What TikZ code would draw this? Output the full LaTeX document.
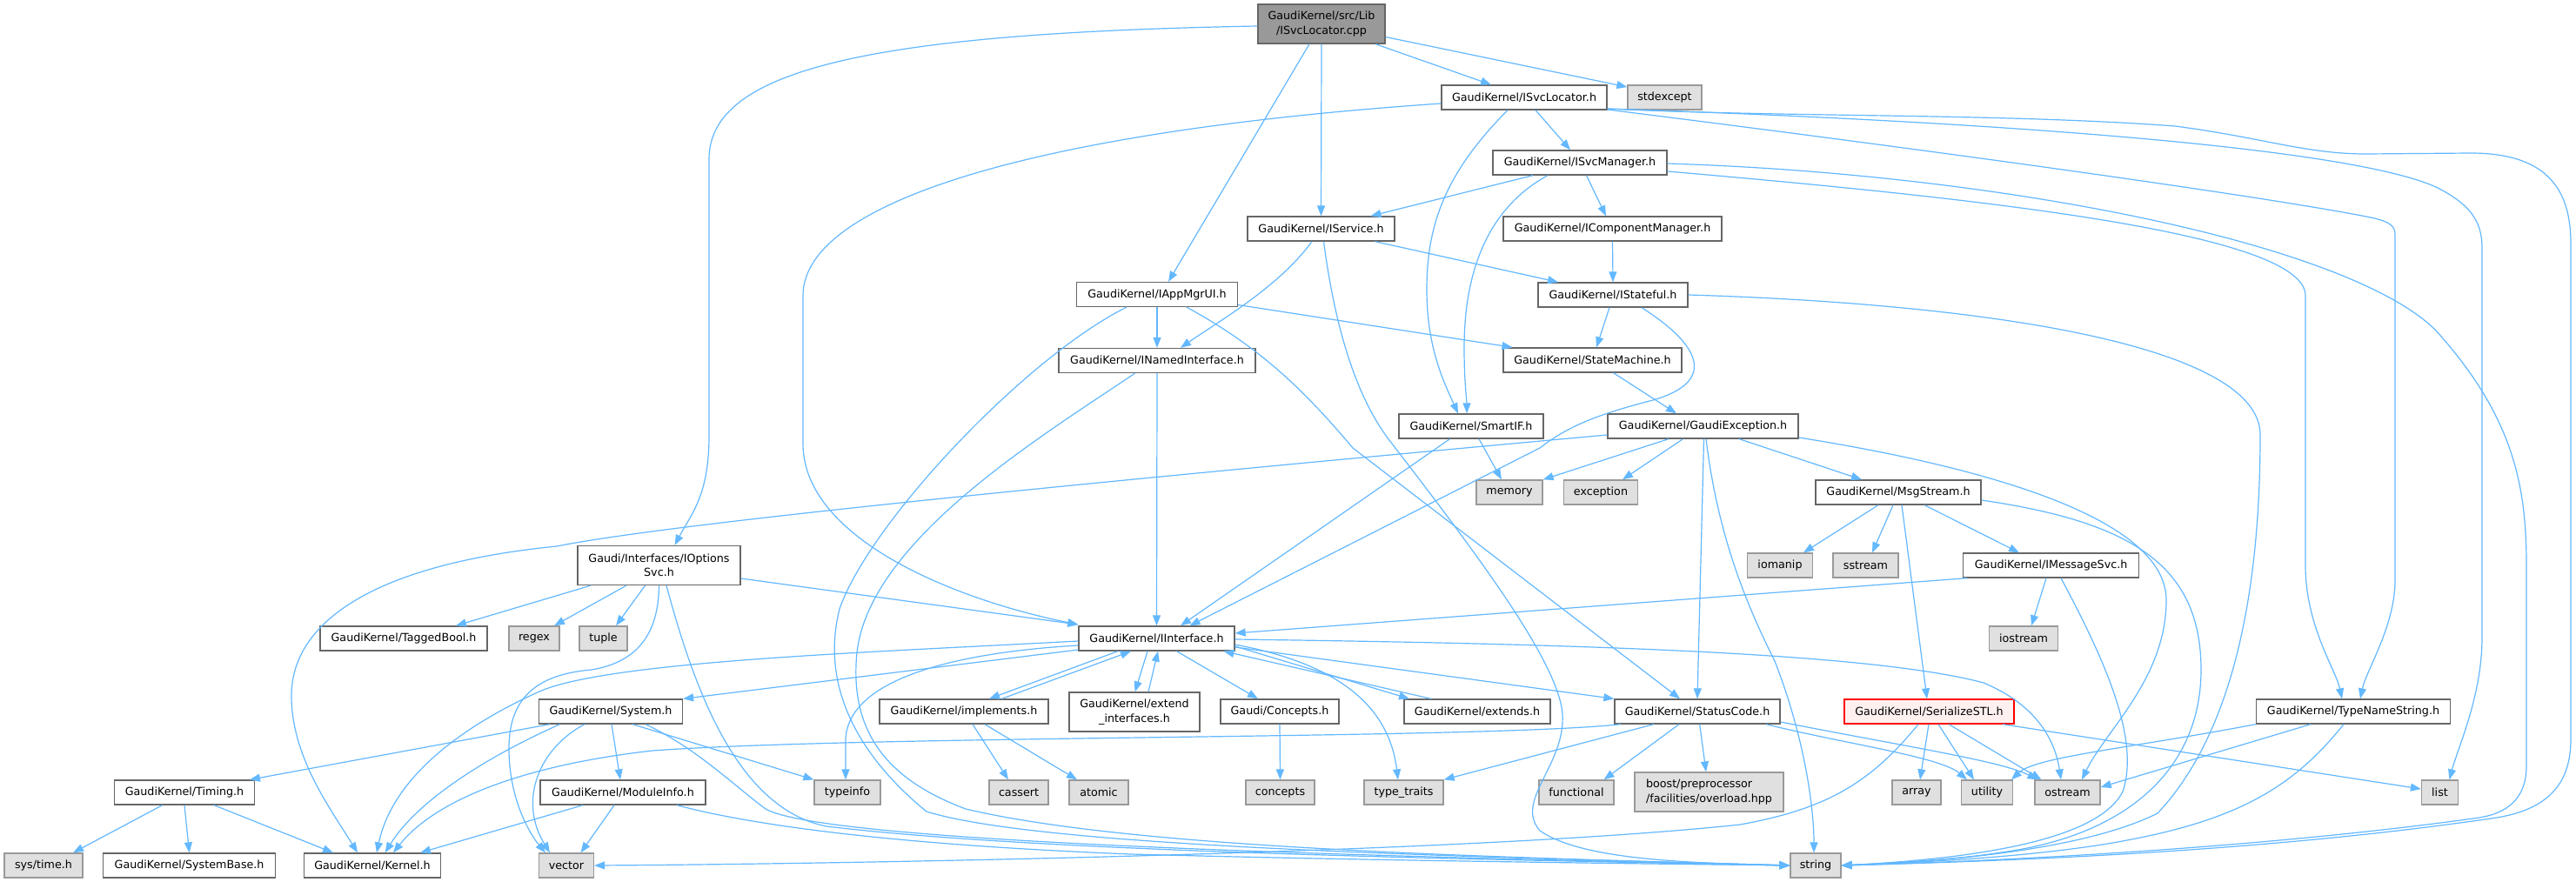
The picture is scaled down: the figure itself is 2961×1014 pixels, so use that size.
\documentclass[tikz,border=0pt]{standalone}
\usepackage{fontspec}
\setmainfont{DejaVu Sans}
\usetikzlibrary{arrows.meta}
\definecolor{edgeblue}{HTML}{63B8FF}
\definecolor{gfour}{HTML}{666666}
\definecolor{gsix}{HTML}{999999}
\definecolor{sysfill}{HTML}{E0E0E0}
\definecolor{redfill}{HTML}{FFF0F0}
\tikzset{
  box/.style={draw=gfour, fill=white, line width=1.3pt, minimum height=28, inner sep=0pt,
    font=\fontsize{12.7}{16.5}\selectfont, align=center},
  sysbox/.style={box, draw=gsix, fill=sysfill},
  rootbox/.style={box, draw=gfour, fill=gsix},
  redbox/.style={box, draw=red, fill=redfill},
  dep/.style={draw=edgeblue, line width=1.2pt, -{Triangle[length=12pt,width=9pt]}}
}
\begin{document}
\begin{tikzpicture}[x=1pt,y=-1pt]
\fill[white] (0,0) rectangle (2961,1014);
\useasboundingbox (0,0) rectangle (2961,1014);
% nodes
\node[rootbox, minimum width=146, minimum height=45] (root) at (1519,27.5) {GaudiKernel/src/Lib\\/ISvcLocator.cpp};
\node[box, minimum width=190] (isl) at (1752,112) {GaudiKernel/ISvcLocator.h};
\node[sysbox, minimum width=85] (stdx) at (1913.5,112) {stdexcept};
\node[box, minimum width=200] (ism) at (1816,187) {GaudiKernel/ISvcManager.h};
\node[box, minimum width=169] (isv) at (1518.5,263) {GaudiKernel/IService.h};
\node[box, minimum width=251] (icm) at (1853.5,263) {GaudiKernel/IComponentManager.h};
\node[box, minimum width=172] (ist) at (1854,339) {GaudiKernel/IStateful.h};
\node[box, minimum width=185] (iam) at (1330,338.5) {GaudiKernel/IAppMgrUI.h};
\node[box, minimum width=226] (ini) at (1330,414.5) {GaudiKernel/INamedInterface.h};
\node[box, minimum width=205] (stm) at (1830.5,414) {GaudiKernel/StateMachine.h};
\node[box, minimum width=166] (sif) at (1691,490) {GaudiKernel/SmartIF.h};
\node[box, minimum width=219] (gex) at (1957.5,490) {GaudiKernel/GaudiException.h};
\node[sysbox, minimum width=76] (mem) at (1735,566) {memory};
\node[sysbox, minimum width=85] (exc) at (1840,566) {exception};
\node[box, minimum width=190] (msg) at (2182,566) {GaudiKernel/MsgStream.h};
\node[box, minimum width=187, minimum height=45] (ios) at (757.5,650) {Gaudi/Interfaces/IOptions\\Svc.h};
\node[sysbox, minimum width=75] (iom) at (2046,650) {iomanip};
\node[sysbox, minimum width=75] (sst) at (2144.5,650) {sstream};
\node[box, minimum width=202] (ims) at (2357.6,650) {GaudiKernel/IMessageSvc.h};
\node[box, minimum width=192] (tgb) at (464,734) {GaudiKernel/TaggedBool.h};
\node[sysbox, minimum width=58] (rgx) at (614,734) {regex};
\node[sysbox, minimum width=55] (tpl) at (693.5,734) {tuple};
\node[box, minimum width=179] (iif) at (1329.5,734) {GaudiKernel/IInterface.h};
\node[sysbox, minimum width=79] (iost) at (2326,734) {iostream};
\node[box, minimum width=165] (sys) at (702,818) {GaudiKernel/System.h};
\node[box, minimum width=194] (imp) at (1108,818) {GaudiKernel/implements.h};
\node[box, minimum width=150, minimum height=45] (ext) at (1304,818.5) {GaudiKernel/extend\\\_interfaces.h};
\node[box, minimum width=136] (cpt) at (1471,818) {Gaudi/Concepts.h};
\node[box, minimum width=168] (exd) at (1698,818) {GaudiKernel/extends.h};
\node[box, minimum width=190] (stc) at (1951,818) {GaudiKernel/StatusCode.h};
\node[redbox, minimum width=195] (ser) at (2217.5,818) {GaudiKernel/SerializeSTL.h};
\node[box, minimum width=223] (tns) at (2705,818) {GaudiKernel/TypeNameString.h};
\node[box, minimum width=161] (tim) at (212,911) {GaudiKernel/Timing.h};
\node[box, minimum width=190] (mod) at (716,911) {GaudiKernel/ModuleInfo.h};
\node[sysbox, minimum width=76] (tyi) at (974,911) {typeinfo};
\node[sysbox, minimum width=68] (cas) at (1171,911) {cassert};
\node[sysbox, minimum width=68] (atm) at (1263,911) {atomic};
\node[sysbox, minimum width=79] (cnc) at (1471.5,911) {concepts};
\node[sysbox, minimum width=91] (ttr) at (1613.5,911) {type\_traits};
\node[sysbox, minimum width=86] (fnc) at (1812,911) {functional};
\node[sysbox, minimum width=171, minimum height=45, align=left] (bst) at (1964.5,910.5) {boost/preprocessor\\/facilities/overload.hpp};
\node[sysbox, minimum width=56] (arr) at (2203,911) {array};
\node[sysbox, minimum width=59] (utl) at (2284,911) {utility};
\node[sysbox, minimum width=75] (ost) at (2376.5,911) {ostream};
\node[sysbox, minimum width=42] (lst) at (2804.5,911) {list};
\node[sysbox, minimum width=90] (stime) at (50,995) {sys/time.h};
\node[box, minimum width=198] (sbs) at (217.6,995) {GaudiKernel/SystemBase.h};
\node[box, minimum width=157] (ker) at (428,995) {GaudiKernel/Kernel.h};
\node[sysbox, minimum width=63] (vec) at (651,995) {vector};
\node[sysbox, minimum width=58] (str) at (2087,995) {string};
% root edges
\draw[dep] ([xshift=62]root.south) -- ([xshift=-38]isl.north);
\draw[dep] ([yshift=-15]root.east) -- ([yshift=12]stdx.west);
\draw[dep] (root.south) -- (isv.north);
\draw[dep] ([xshift=-14]root.south) -- ([xshift=13]iam.north);
\draw[dep] ([yshift=-2.5]root.west) .. controls (1000,38) and (815,80) .. (815,183) -- (815,500) .. controls (815,570) and (795,590) .. ([xshift=18]ios.north);
% ISvcLocator.h
\draw[dep] ([yshift=-7]isl.west) .. controls (1200,150) and (923,230) .. (923,340) -- (923,510) .. controls (923,620) and (1100,690) .. ([yshift=16]iif.west);
\draw[dep] ([xshift=-19]isl.south) .. controls (1660,200) and (1640,260) .. (1640,333) .. controls (1640,400) and (1660,440) .. ([xshift=-15]sif.north);
\draw[dep] ([xshift=13]isl.south) -- ([xshift=-11]ism.north);
\draw[dep] ([yshift=-13]isl.east) .. controls (2050,135) and (2300,130) .. (2500,145) .. controls (2600,158) and (2650,177) .. (2720,177) -- (2840,176) .. controls (2930,176) and (2955,220) .. (2955,280) -- (2955,850) .. controls (2955,900) and (2930,930) .. (2870,940) .. controls (2600,980) and (2300,990) .. (str.east);
\draw[dep] ([yshift=-13]isl.east) .. controls (2300,140) and (2700,170) .. (2800,215) .. controls (2840,235) and (2853,255) .. (2853,285) -- (2853,733) .. controls (2853,800) and (2825,860) .. ([xshift=11]lst.north);
\draw[dep] ([yshift=-14]isl.east) .. controls (2200,170) and (2600,225) .. (2725,250) .. controls (2748,255) and (2753,260) .. (2753,270) -- (2753,667) .. controls (2753,720) and (2720,770) .. ([xshift=8]tns.north);
% ISvcManager.h
\draw[dep] ([xshift=-54]ism.south) -- ([xshift=57]isv.north);
\draw[dep] ([xshift=-37]ism.south) .. controls (1700,245) and (1683,330) .. (1683,400) .. controls (1683,440) and (1686,460) .. ([xshift=-5]sif.north);
\draw[dep] ([xshift=7.5]ism.south) -- ([xshift=-7.5]icm.north);
\draw[dep] ([yshift=-1]ism.east) .. controls (2300,200) and (2700,280) .. (2800,380) .. controls (2890,480) and (2904,560) .. (2904,650) -- (2904,880) .. controls (2904,920) and (2880,935) .. (2850,940) .. controls (2600,975) and (2300,990) .. (str.east);
\draw[dep] ([yshift=-10]ism.east) .. controls (2300,230) and (2650,270) .. (2650,340) -- (2650,650) .. controls (2650,720) and (2685,770) .. ([xshift=-13]tns.north);
\draw[dep] (icm.south) -- (ist.north);
% IService.h
\draw[dep] ([xshift=62]isv.south) -- ([xshift=-63]ist.north);
\draw[dep] ([xshift=-10.5]isv.south) .. controls (1470,330) and (1400,370) .. ([xshift=27]ini.north);
\draw[dep] ([xshift=3]isv.south) .. controls (1535,380) and (1560,460) .. (1600,510) .. controls (1700,640) and (1790,760) .. (1796,820) .. controls (1800,880) and (1740,920) .. (1770,955) .. controls (1820,990) and (1950,992) .. (str.west);
% IStateful.h
\draw[dep] ([xshift=-4]ist.south) -- ([xshift=4.5]stm.north);
\draw[dep] ([xshift=33]ist.south) .. controls (1960,400) and (1970,440) .. (1900,460) .. controls (1830,478) and (1800,492) .. (1770,515) -- ([xshift=38]iif.north);
\draw[dep] (ist.east) .. controls (2300,350) and (2598,400) .. (2598,500) .. controls (2598,700) and (2560,850) .. (2480,935) .. controls (2400,975) and (2250,990) .. (str.east);
\draw[dep] ([xshift=24]stm.south) -- ([xshift=-30.5]gex.north);
% IAppMgrUI.h
\draw[dep] (iam.south) -- (ini.north);
\draw[dep] ([yshift=-12]iam.east) -- ([xshift=-92]stm.north);
\draw[dep] ([xshift=34]iam.south) .. controls (1450,400) and (1500,450) .. (1555,515) -- ([xshift=-20]stc.north);
\draw[dep] ([xshift=-35]iam.south) .. controls (1180,410) and (1000,600) .. (965,700) .. controls (940,800) and (1000,880) .. (1065,933) .. controls (1200,975) and (1700,985) .. (str.west);
% INamedInterface.h
\draw[dep] (ini.south) -- (iif.north);
\draw[dep] ([xshift=-25.5]ini.south) .. controls (1200,500) and (1000,620) .. (985,750) .. controls (975,850) and (1030,900) .. (1110,930) .. controls (1300,975) and (1700,985) .. (str.west);
% SmartIF.h
\draw[dep] ([xshift=-24.5]sif.south) -- ([xshift=27.5]iif.north);
\draw[dep] ([xshift=9]sif.south) -- ([xshift=-9]mem.north);
% GaudiException.h
\draw[dep] ([yshift=-10]gex.west) .. controls (1300,550) and (780,600) .. (640,628) .. controls (420,650) and (335,720) .. (335,800) .. controls (335,870) and (380,930) .. ([xshift=-17]ker.north);
\draw[dep] ([xshift=-39.5]gex.south) -- (mem.north east);
\draw[dep] ([xshift=-23]gex.south) -- ([xshift=25]exc.north);
\draw[dep] ([xshift=1]gex.south) -- (stc.north);
\draw[dep] ([xshift=3.5]gex.south) .. controls (1975,620) and (2010,700) .. (2040,760) .. controls (2075,850) and (2085,930) .. ([xshift=-2]str.north);
\draw[dep] ([xshift=41.5]gex.south) -- ([xshift=-42]msg.north);
\draw[dep] ([yshift=-13]gex.east) .. controls (2300,540) and (2490,600) .. (2490,690) .. controls (2490,780) and (2420,840) .. ([xshift=16.5]ost.north);
% MsgStream.h
\draw[dep] ([xshift=-23]msg.south) -- ([xshift=27]iom.north);
\draw[dep] ([xshift=-6]msg.south) -- ([xshift=7.5]sst.north);
\draw[dep] ([xshift=4]msg.south) -- ([xshift=-2.5]ser.north);
\draw[dep] ([xshift=30]msg.south) -- ([xshift=-36.6]ims.north);
\draw[dep] ([yshift=-9]msg.east) .. controls (2450,600) and (2530,650) .. (2530,770) .. controls (2530,880) and (2450,960) .. (2300,980) .. controls (2250,988) and (2180,992) .. (str.east);
% IMessageSvc.h
\draw[dep] ([xshift=-96.6]ims.south) -- ([yshift=6]iif.east);
\draw[dep] ([xshift=-5.6]ims.south) -- ([xshift=9]iost.north);
\draw[dep] ([xshift=11.4]ims.south) .. controls (2420,760) and (2460,850) .. (2440,910) .. controls (2410,970) and (2250,988) .. (str.east);
% IOptionsSvc.h
\draw[dep] ([xshift=-78.5]ios.south) -- ([xshift=60]tgb.north);
\draw[dep] ([xshift=-37.5]ios.south) -- ([xshift=23]rgx.north);
\draw[dep] ([xshift=-16]ios.south) -- ([xshift=14.5]tpl.north);
\draw[dep] ([yshift=-15]ios.east) -- ([yshift=16]iif.west);
\draw[dep] (ios.south) .. controls (757,720) and (740,760) .. (680,770) .. controls (620,775) and (585,800) .. (585,860) .. controls (585,920) and (610,960) .. ([xshift=-24]vec.north);
\draw[dep] ([xshift=8.5]ios.south) .. controls (800,800) and (850,930) .. (950,950) .. controls (1200,980) and (1700,988) .. (str.west);
% IInterface.h
\draw[dep] ([yshift=-13]iif.west) -- (sys.north east);
\draw[dep] ([yshift=-3]iif.west) .. controls (1000,750) and (700,760) .. (620,795) .. controls (520,840) and (450,900) .. ([xshift=5]ker.north);
\draw[dep] ([yshift=-8]iif.west) .. controls (1100,750) and (975,780) .. (972,850) -- ([xshift=-2]tyi.north);
\draw[dep] ([xshift=-44.5]iif.south) -- ([xshift=29]imp.north);
\draw[dep] ([xshift=43.5]imp.north) -- ([xshift=-29.5]iif.south);
\draw[dep] ([xshift=-10.5]iif.south) -- ([xshift=0.6]ext.north);
\draw[dep] ([xshift=16]ext.north) -- ([xshift=1.5]iif.south);
\draw[dep] ([xshift=23]iif.south) -- ([xshift=-25]cpt.north);
\draw[dep] ([yshift=-9]iif.east) -- ([xshift=-78]exd.north);
\draw[dep] ([xshift=-53]exd.north) -- ([xshift=77]iif.south);
\draw[dep] ([yshift=-10]iif.east) -- (stc.north west);
\draw[dep] ([yshift=-7]iif.east) .. controls (1520,760) and (1595,800) .. ([xshift=-6.5]ttr.north);
\draw[dep] ([yshift=-1]iif.east) .. controls (1800,740) and (2150,750) .. (2280,785) .. controls (2340,810) and (2362,850) .. ([xshift=-7.5]ost.north);
% System.h
\draw[dep] ([xshift=-70]sys.south) -- ([xshift=75]tim.north);
\draw[dep] ([xshift=-58.5]sys.south) .. controls (560,870) and (480,920) .. ([xshift=14.6]ker.north);
\draw[dep] ([xshift=-30]sys.south) .. controls (620,860) and (595,920) .. ([xshift=-19]vec.north);
\draw[dep] ([xshift=1]sys.south) -- ([xshift=-3]mod.north);
\draw[dep] ([xshift=25]sys.south) -- (tyi.north west);
\draw[dep] ([xshift=40]sys.south) .. controls (800,860) and (840,900) .. (880,930) .. controls (950,970) and (1600,985) .. (str.west);
% Timing.h
\draw[dep] ([xshift=-25.4]tim.south) -- ([xshift=34]stime.north);
\draw[dep] (tim.south) -- (sbs.north);
\draw[dep] ([xshift=34]tim.south) -- ([xshift=-45]ker.north);
% ModuleInfo.h
\draw[dep] ([xshift=-46]mod.south) -- ([xshift=55]ker.north);
\draw[dep] ([xshift=-10]mod.south) -- ([xshift=16.5]vec.north);
\draw[dep] ([xshift=62]mod.south) .. controls (850,945) and (1000,970) .. (1300,982) .. controls (1600,990) and (1900,993) .. (str.west);
% implements.h, Concepts.h
\draw[dep] ([xshift=10]imp.south) -- ([xshift=-12]cas.north);
\draw[dep] ([xshift=24]imp.south) -- ([xshift=-25]atm.north);
\draw[dep] (cpt.south) -- (cnc.north);
% StatusCode.h
\draw[dep] ([xshift=-88]stc.south) .. controls (1700,850) and (1000,845) .. (750,863) .. controls (600,880) and (500,920) .. ([xshift=24]ker.north);
\draw[dep] ([xshift=-50]stc.south) -- (ttr.north east);
\draw[dep] ([xshift=-21]stc.south) -- ([xshift=31.6]fnc.north);
\draw[dep] ([xshift=2.7]stc.south) -- ([xshift=-3.5]bst.north);
\draw[dep] ([xshift=79]stc.south) .. controls (2120,855) and (2230,870) .. ([xshift=-23]utl.north);
\draw[dep] ([yshift=-12]stc.east) .. controls (2200,860) and (2300,875) .. ([xshift=-34]ost.north);
% SerializeSTL.h
\draw[dep] ([xshift=-12.5]ser.south) .. controls (2150,900) and (2100,930) .. (2000,948) .. controls (1700,980) and (1000,993) .. (vec.east);
\draw[dep] ([xshift=-0.5]ser.south) -- ([xshift=4]arr.north);
\draw[dep] ([xshift=10.5]ser.south) -- ([xshift=-15]utl.north);
\draw[dep] ([xshift=22.5]ser.south) -- ([xshift=-30]ost.north);
\draw[dep] ([xshift=84.5]ser.south) -- ([yshift=4]lst.west);
% TypeNameString.h
\draw[dep] (tns.south west) .. controls (2450,860) and (2340,870) .. ([xshift=28]utl.north);
\draw[dep] ([xshift=-49]tns.south) -- ([yshift=6]ost.east);
\draw[dep] ([xshift=-11]tns.south) .. controls (2640,900) and (2580,940) .. (2450,965) .. controls (2350,985) and (2200,992) .. (str.east);
\end{tikzpicture}
\end{document}
